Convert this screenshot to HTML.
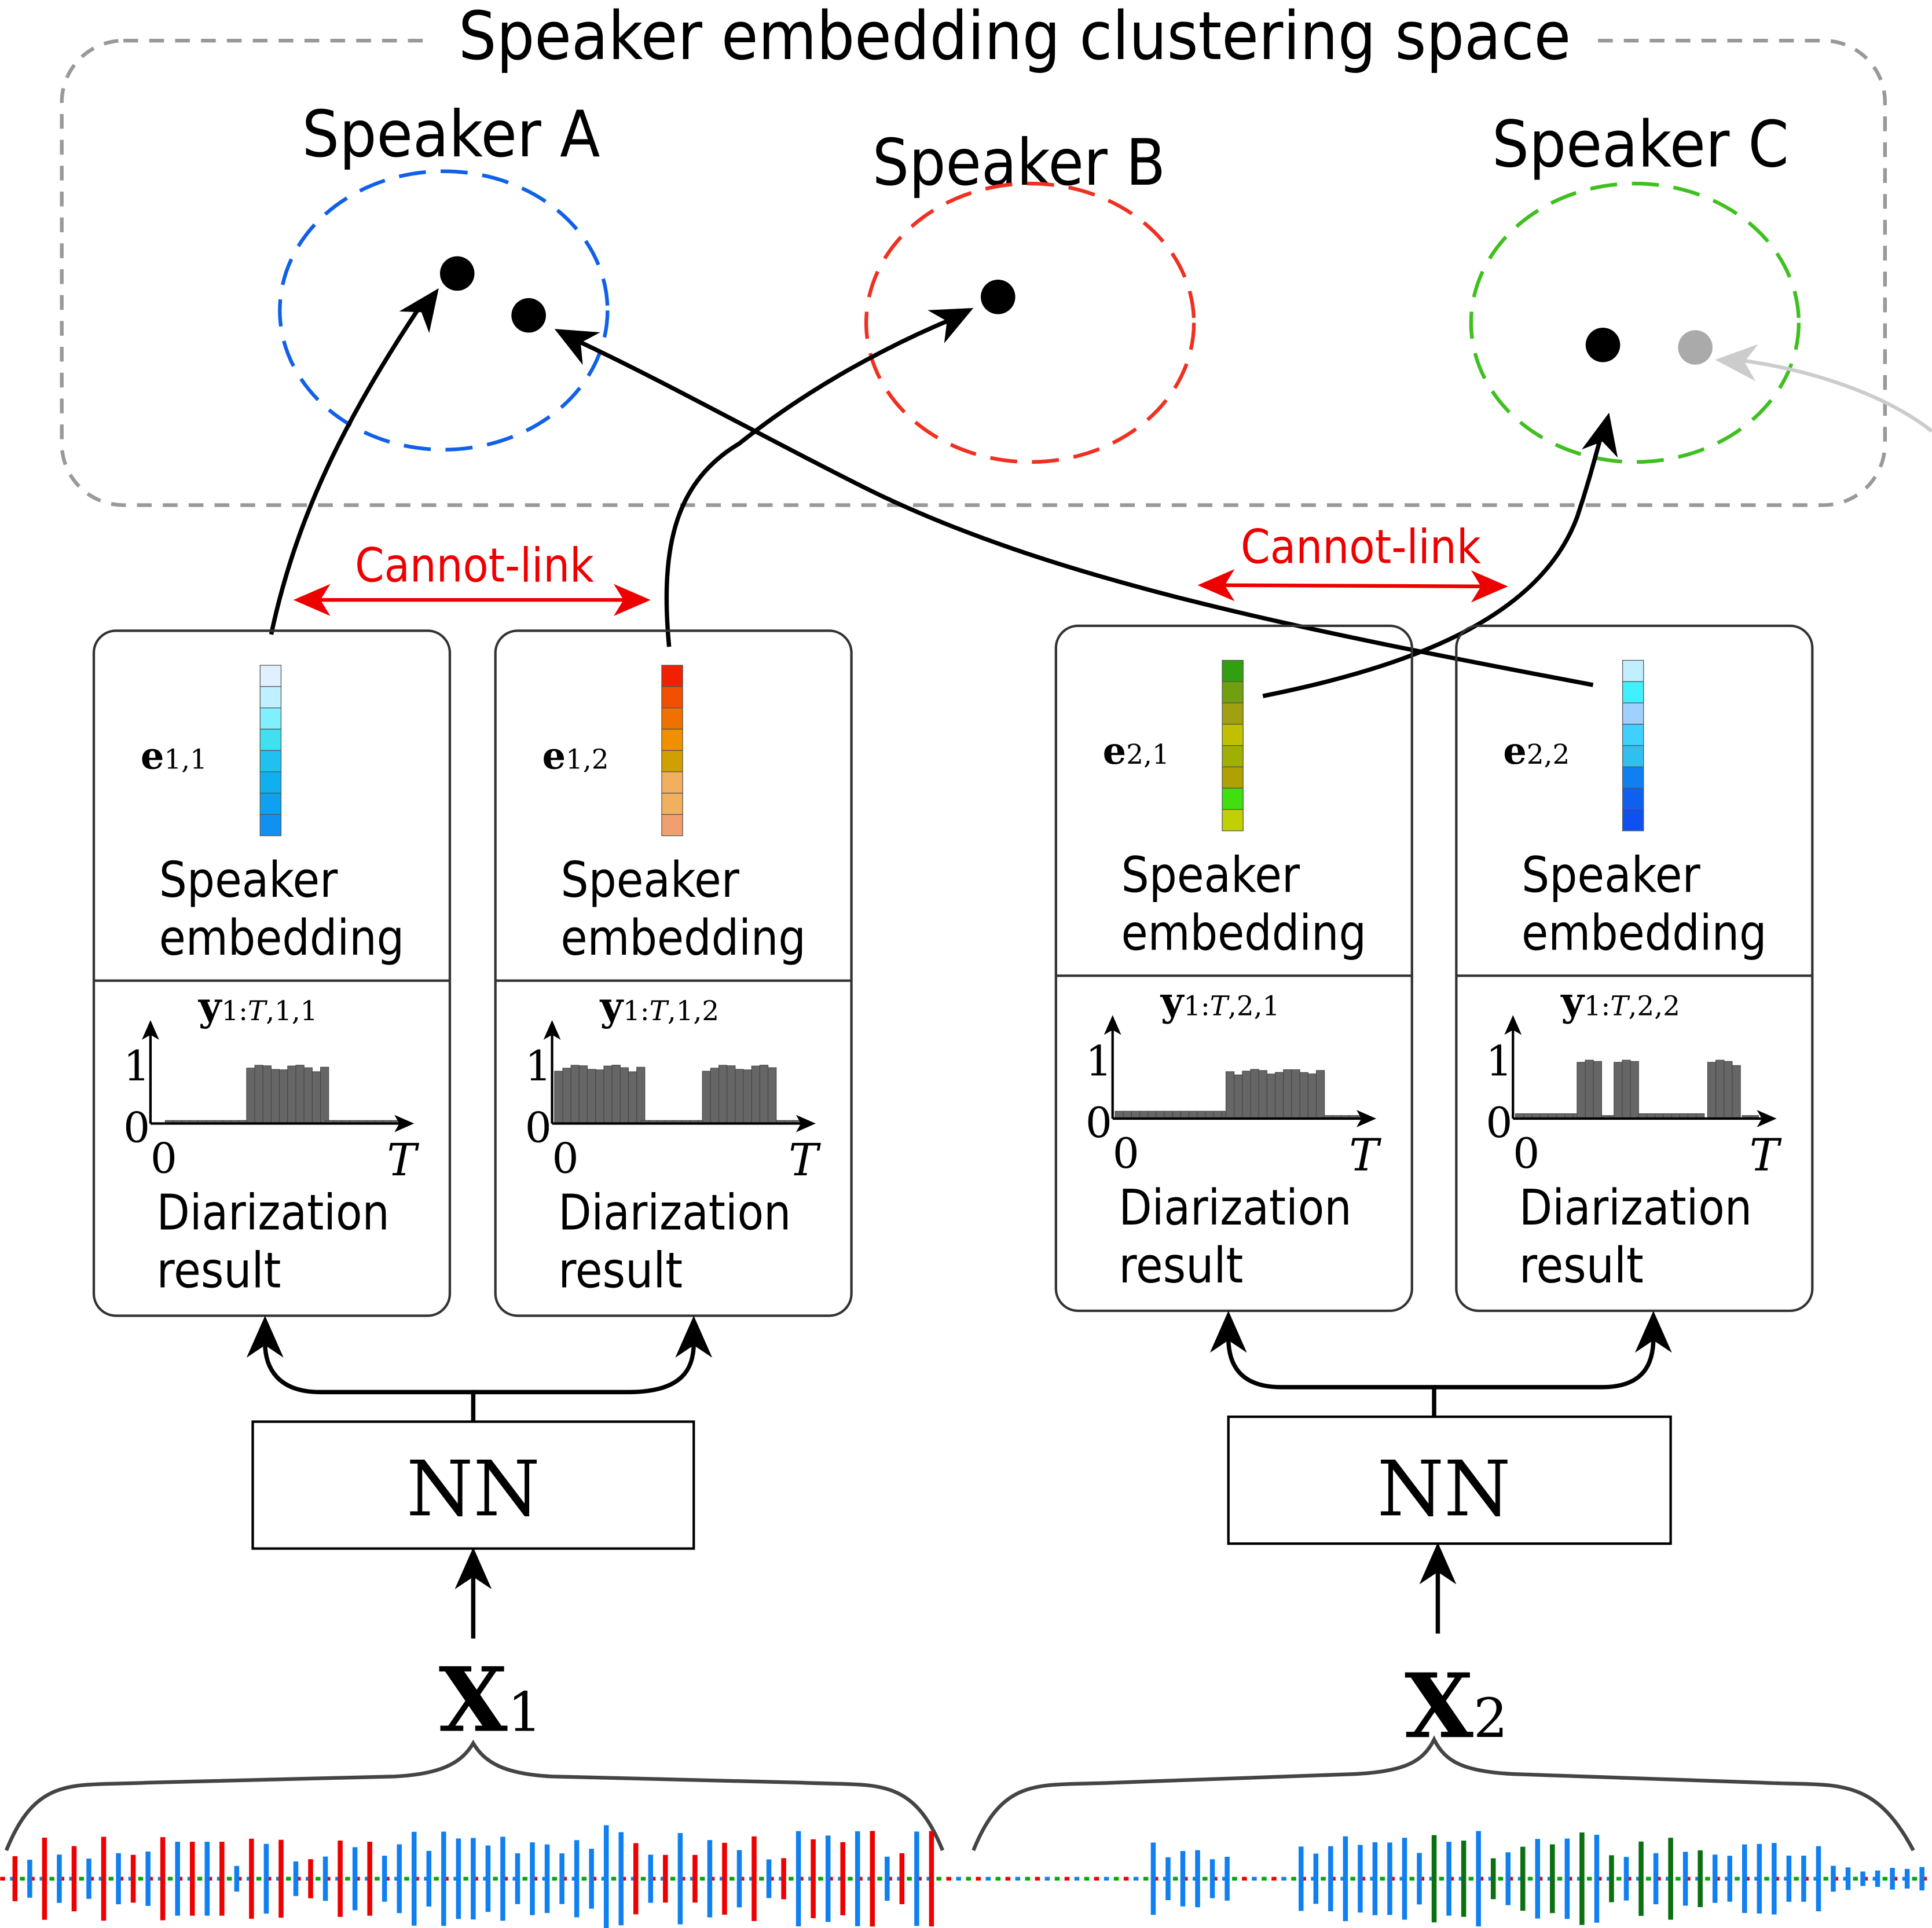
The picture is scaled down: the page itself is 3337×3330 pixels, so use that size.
<!DOCTYPE html>
<html><head><meta charset="utf-8"><style>
html,body{margin:0;padding:0;background:#fff}
svg{display:block}
.s{font-family:"DejaVu Sans","Liberation Sans",sans-serif}
.m{font-family:"DejaVu Serif","Liberation Serif",serif}
</style></head><body>
<svg id="sv" width="3337" height="3330" viewBox="0 0 1568 1565" xmlns="http://www.w3.org/2000/svg">
<rect x="50" y="33" width="1480" height="377" rx="50" fill="none" stroke="#999" stroke-width="3" stroke-dasharray="12,9"/>
<rect x="345" y="5" width="950" height="55" fill="#fff"/>
<text x="372" y="48" class="s" font-size="54" textLength="903" lengthAdjust="spacingAndGlyphs">Speaker embedding clustering space</text>
<text x="245" y="127" class="s" font-size="52" textLength="242" lengthAdjust="spacingAndGlyphs">Speaker A</text>
<text x="708" y="150" class="s" font-size="52" textLength="238" lengthAdjust="spacingAndGlyphs">Speaker B</text>
<text x="1211" y="135" class="s" font-size="52" textLength="241" lengthAdjust="spacingAndGlyphs">Speaker C</text>
<ellipse cx="360" cy="252" rx="133" ry="113" fill="none" stroke="#1060e8" stroke-width="3" stroke-dasharray="22,12"/>
<ellipse cx="836" cy="262" rx="133" ry="113" fill="none" stroke="#f03020" stroke-width="3" stroke-dasharray="22,12"/>
<ellipse cx="1327" cy="262" rx="133" ry="113" fill="none" stroke="#40c020" stroke-width="3" stroke-dasharray="22,12"/>
<circle cx="371" cy="222" r="14"/><circle cx="429" cy="256" r="14"/><circle cx="810" cy="241" r="14"/><circle cx="1301" cy="280" r="14"/><circle cx="1376" cy="282" r="14" fill="#aaa"/>
<g fill="none" stroke="#000" stroke-width="3.5">
<path d="M220,515 C240,420 280,340 340,250"/>
<path d="M543,525 C535,440 550,390 600,360 C650,320 710,285 775,258"/>
<path d="M1293,556 C1050,510 850,470 700,395 C620,355 540,310 465,275"/>
<path d="M1025,565 C1150,540 1250,500 1280,420 C1290,390 1295,370 1300,352"/>
</g>
<path d="M1568,350 C1530,320 1470,300 1410,292" fill="none" stroke="#ccc" stroke-width="3"/>
<g stroke="#e00" stroke-width="3"><line x1="250" y1="487" x2="516" y2="487"/><line x1="984" y1="475" x2="1212" y2="476"/></g>
<g fill="#e00"><path d="M238,487 l30,-13 l-8,13 l8,13z"/><path d="M528,487 l-30,-13 l8,13 l-8,13z"/><path d="M972,475 l30,-13 l-8,13 l8,13z"/><path d="M1224,476 l-30,-13 l8,13 l-8,13z"/></g>
<text x="288" y="472" class="s" font-size="38" fill="#e00" textLength="194" lengthAdjust="spacingAndGlyphs">Cannot-link</text>
<text x="1007" y="457" class="s" font-size="38" fill="#e00" textLength="195" lengthAdjust="spacingAndGlyphs">Cannot-link</text>
<g id="boxes"></g>
<g fill="none" stroke="#000" stroke-width="3.5">
<path d="M384,1154 V1130 H260 C225,1130 215,1110 215,1090"/>
<path d="M384,1130 H510 C555,1130 563,1110 563,1090"/>
<path d="M1164,1150 V1126 H1040 C1005,1126 997,1106 997,1086"/>
<path d="M1164,1126 H1300 C1335,1126 1342,1106 1342,1086"/>
<path d="M384,1330 V1275"/>
<path d="M1167,1326 V1271"/>
</g>
<g id="arr"></g>
<rect x="205" y="1154" width="358" height="103" fill="none" stroke="#000" stroke-width="2"/>
<rect x="997" y="1150" width="359" height="103" fill="none" stroke="#000" stroke-width="2"/>
<text x="384" y="1230" class="m" font-size="62" text-anchor="middle">NN</text>
<text x="1172" y="1230" class="m" font-size="62" text-anchor="middle">NN</text>
<text x="356" y="1405" class="m" font-size="72" font-weight="bold">X<tspan font-size="44" font-weight="normal">1</tspan></text>
<text x="1140" y="1410" class="m" font-size="72" font-weight="bold">X<tspan font-size="44" font-weight="normal">2</tspan></text>
<g fill="none" stroke="#444" stroke-width="3">
<path d="M5,1502 C30,1440 60,1450 120,1447 L320,1442 C360,1440 375,1430 384,1415 C393,1430 408,1440 448,1442 L650,1447 C710,1450 740,1440 765,1502"/>
<path d="M790,1502 C815,1440 845,1450 905,1447 L1100,1440 C1140,1438 1155,1430 1164,1412 C1173,1430 1188,1438 1228,1440 L1430,1447 C1490,1450 1520,1440 1553,1502"/>
</g>
<g id="wave"></g>
</svg>
<script>
var NS="http://www.w3.org/2000/svg",sv=document.getElementById('sv');
function el(p,t,a,txt){var e=document.createElementNS(NS,t);for(var k in a)e.setAttribute(k,a[k]);if(txt!=null)e.textContent=txt;p.appendChild(e);return e;}
var A=document.getElementById('arr');
function arrow(x,y,fx,fy,col){var a=Math.atan2(y-fy,x-fx)*180/Math.PI;el(A,'path',{d:'M0,0 L-34,-15 L-24,0 L-34,15Z',fill:col||'#000',transform:'translate('+x+','+y+') rotate('+a+')'});}
arrow(356,234,330,270);arrow(790,250,760,265);arrow(450,267,480,283);arrow(1306,335,1298,370);
arrow(1392,292,1420,294,'#ccc');
arrow(215,1068,215,1100);arrow(563,1068,563,1100);arrow(997,1064,997,1096);arrow(1342,1064,1342,1096);
arrow(384,1256,384,1290);arrow(1167,1252,1167,1286);
var B=document.getElementById('boxes');
var boxes=[
{x:76,y:512,lab:'1,1',cols:['#e0f0ff','#c0f0ff','#80f0ff','#40e0f0','#20c0f0','#10b0f0','#10a0f0','#1090f0'],bars:[[0.05,0.38,0.05],[0.38,0.7,0.95],[0.7,1,0.05]]},
{x:402,y:512,lab:'1,2',cols:['#f02000','#f05000','#f07000','#f09000','#d0a000','#f0b060','#f0b060','#f0a070'],bars:[[0,0.35,0.95],[0.35,0.6,0.05],[0.6,0.9,0.95],[0.9,1,0.05]]},
{x:857,y:508,lab:'2,1',cols:['#30a010','#70a010','#a0a010','#c0c000','#a0b000','#b0a000','#40e010','#c0d000'],bars:[[0,0.45,0.12],[0.45,0.85,0.8],[0.85,1,0.05]]},
{x:1182,y:508,lab:'2,2',cols:['#c0f0ff','#40f0ff','#a0d0ff','#40d0ff','#30c0f0','#1080f0','#1060f0','#1050f0'],bars:[[0,0.25,0.08],[0.25,0.35,0.95],[0.35,0.4,0.05],[0.4,0.5,0.95],[0.5,0.78,0.08],[0.78,0.92,0.95],[0.92,1,0.05]]}];
boxes.forEach(function(b){
 var g=el(B,'g',{transform:'translate('+b.x+','+b.y+')'});
 el(g,'rect',{x:0,y:0,width:289,height:556,rx:18,fill:'none',stroke:'#333','stroke-width':2});
 el(g,'line',{x1:0,y1:284,x2:289,y2:284,stroke:'#333','stroke-width':2});
 b.cols.forEach(function(c,i){el(g,'rect',{x:135,y:28+i*17.3,width:17,height:17.3,fill:c,stroke:'#555','stroke-width':0.6});});
 var t=el(g,'text',{x:38,y:112,'class':'m','font-size':30,'font-weight':'bold'},'e');
 el(t,'tspan',{'font-size':22,'font-weight':'normal'},b.lab);
 el(g,'text',{x:53,y:216,'class':'s','font-size':40,textLength:145,lengthAdjust:'spacingAndGlyphs'},'Speaker');
 el(g,'text',{x:53,y:263,'class':'s','font-size':40,textLength:199,lengthAdjust:'spacingAndGlyphs'},'embedding');
 var t2=el(g,'text',{x:85,y:316,'class':'m','font-size':32,'font-weight':'bold'},'y');
 el(t2,'tspan',{'font-size':22,'font-weight':'normal'},'1:');
 el(t2,'tspan',{'font-size':22,'font-weight':'normal','font-style':'italic'},'T');
 el(t2,'tspan',{'font-size':22,'font-weight':'normal'},','+b.lab);
 var ox=46,oy=400,W=200,H=50;
 b.bars.forEach(function(s){var n=Math.max(1,Math.round((s[1]-s[0])*30));for(var i=0;i<n;i++){var h=s[2]*H*(s[2]>0.5?(0.88+0.12*Math.abs(Math.sin(i*7+b.x))):1);var xx=ox+2+(s[0]*W)+i*W/30;el(g,'rect',{x:xx,y:oy-h,width:W/30,height:h,fill:'#666',stroke:'#444','stroke-width':0.5});}});
 el(g,'line',{x1:ox,y1:oy,x2:ox+205,y2:oy,stroke:'#000','stroke-width':2});
 el(g,'path',{d:'M'+(ox+214)+','+oy+' l-16,-7 l4,7 l-4,7z'});
 el(g,'line',{x1:ox,y1:oy,x2:ox,y2:325,stroke:'#000','stroke-width':2});
 el(g,'path',{d:'M'+ox+',316 l-7,16 l7,-4 l7,4z'});
 el(g,'text',{x:ox-22,y:365,'class':'m','font-size':34},'1');
 el(g,'text',{x:ox-22,y:415,'class':'m','font-size':34},'0');
 el(g,'text',{x:ox,y:440,'class':'m','font-size':34},'0');
 el(g,'text',{x:ox+192,y:442,'class':'m','font-size':36,'font-style':'italic'},'T');
 el(g,'text',{x:51,y:486,'class':'s','font-size':40,textLength:189,lengthAdjust:'spacingAndGlyphs'},'Diarization');
 el(g,'text',{x:51,y:533,'class':'s','font-size':40,textLength:101,lengthAdjust:'spacingAndGlyphs'},'result');
});
var W=document.getElementById('wave'),cy=1525;
for(var x=0;x<1568;x+=8){el(W,'line',{x1:x,y1:cy,x2:x+4,y2:cy,stroke:['#e00','#1080f0','#0a0'][(x/8)%3],'stroke-width':3});}
var seed=3;function r(){seed=(seed*9301+49297)%233280;return seed/233280;}
for(var x=10;x<1560;x+=12){
 var c,amp;
 if(x<320){c=(x%24<12)?'#e00':'#1080f0';amp=10+r()*25;if(x>140&&x<180)amp=30;}
 else if(x<500){c='#1080f0';amp=20+r()*25;}
 else if(x<760){c=(x%24<12)?'#e00':'#1080f0';amp=15+r()*25;}
 else if(x<930){c=null;}
 else if(x<1000){c='#1080f0';amp=15+r()*15;}
 else if(x<1050){c=null;}
 else if(x<1150){c='#1080f0';amp=20+r()*15;}
 else if(x<1400){c=(x%24<12)?'#0a7010':'#1080f0';amp=15+r()*25;}
 else if(x<1480){c='#1080f0';amp=15+r()*15;}
 else {c='#1080f0';amp=5+r()*6;}
 if(!c)continue;
 el(W,'rect',{x:x,y:cy-amp,width:4,height:amp*2,fill:c});
}
</script>
</body></html>
